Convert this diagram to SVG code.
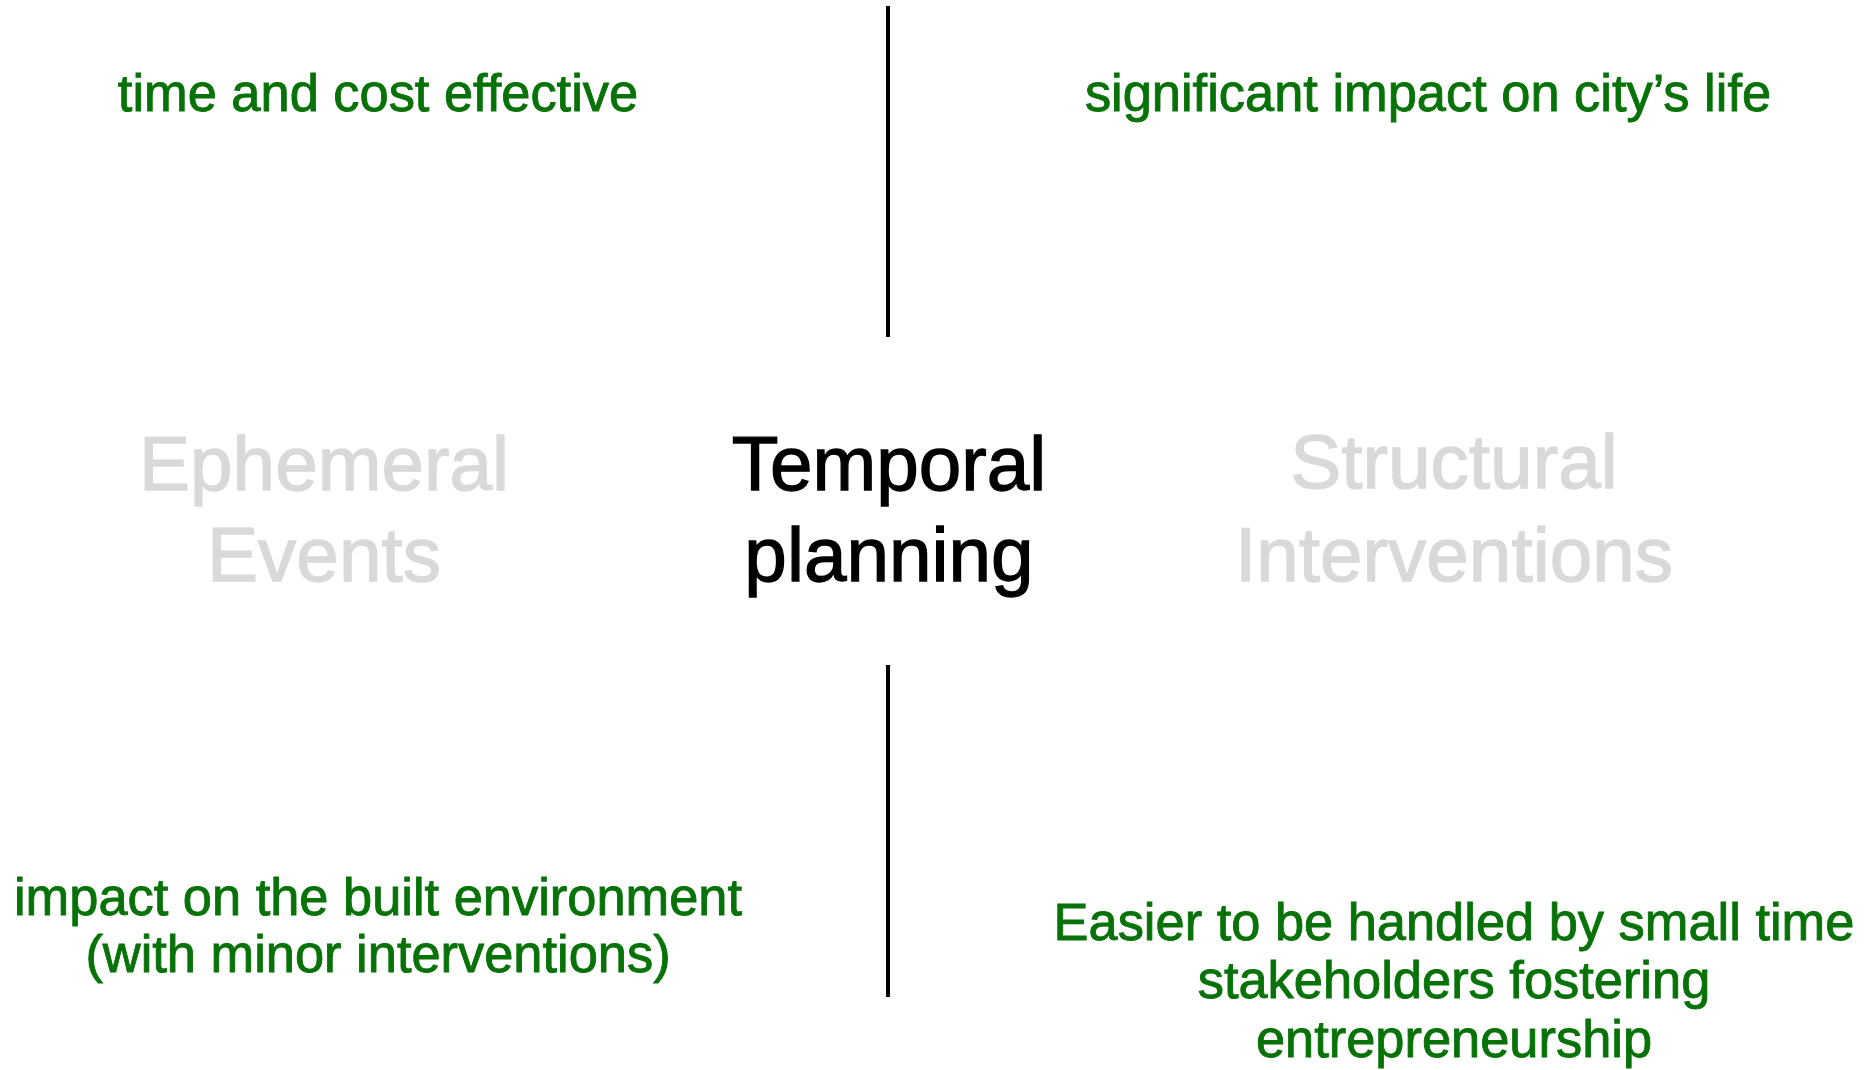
<svg xmlns="http://www.w3.org/2000/svg" width="1872" height="1070" viewBox="0 0 1872 1070">
<style>
text{font-family:"Liberation Sans",Arial,sans-serif;text-anchor:middle}
.g{fill:#077207;stroke:#077207;stroke-width:0.9px;font-size:52.4px}
.big{font-size:76.5px;stroke-width:1.3px}
.grey{fill:#d9d9d9;stroke:#d9d9d9}
.blk{fill:#000;stroke:#000}
.ln{stroke:#000;stroke-width:4}
</style>
<rect width="1872" height="1070" fill="#fff"/>
<g id="connectors">
<line class="ln" x1="888" y1="6" x2="888" y2="337"/>
<line class="ln" x1="888" y1="665" x2="888" y2="997"/>
</g>
<g id="time-cost"><text class="g" x="378" y="111">time and cost effective</text></g>
<g id="city-impact"><text class="g" x="1428" y="111">significant impact on city’s life</text></g>
<g id="ephemeral"><text class="big grey" x="324" y="490">Ephemeral</text><text class="big grey" x="324" y="581">Events</text></g>
<g id="temporal"><text class="big blk" x="889" y="490">Temporal</text><text class="big blk" x="889" y="581">planning</text></g>
<g id="structural"><text class="big grey" x="1454" y="488">Structural</text><text class="big grey" x="1454" y="581">Interventions</text></g>
<g id="built-env"><text class="g" x="378" y="915">impact on the built environment</text><text class="g" x="378" y="972">(with minor interventions)</text></g>
<g id="easier"><text class="g" x="1454" y="940">Easier to be handled by small time</text><text class="g" x="1454" y="998">stakeholders fostering</text><text class="g" x="1454" y="1057">entrepreneurship</text></g>
</svg>
